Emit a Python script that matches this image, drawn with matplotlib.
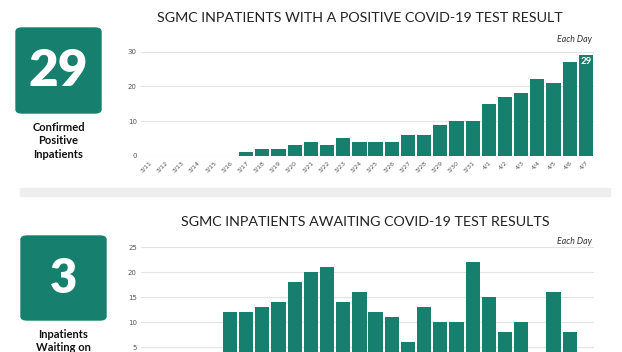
import numpy as np
import matplotlib.pyplot as plt
from matplotlib.patches import FancyBboxPatch, Rectangle

# Data
dates = ['3/11', '3/12', '3/13', '3/14', '3/15', '3/16', '3/17', '3/18', '3/19', '3/20',
         '3/21', '3/22', '3/23', '3/24', '3/25', '3/26', '3/27', '3/28', '3/29', '3/30',
         '3/31', '4/1', '4/2', '4/3', '4/4', '4/5', '4/6', '4/7']
positive = [0, 0, 0, 0, 0, 0, 1, 2, 2, 3, 4, 3, 5, 4, 4, 4, 6, 6, 9, 10,
            10, 15, 17, 18, 22, 21, 27, 29]
awaiting = [0, 0, 0, 0, 0, 12, 12, 13, 14, 18, 20, 21, 14, 16, 12, 11, 6, 13, 10, 10,
            22, 15, 8, 10, 2, 16, 8, 3]
pos_ticks = [0, 10, 20, 30]
await_ticks = [5, 10, 15, 20, 25]

teal = '#167f6d'
W, H = 622, 352

plt.rcParams['font.family'] = ['Lato', 'DejaVu Sans']
fig = plt.figure(figsize=(W / 100, H / 100), dpi=100)
fig.patch.set_facecolor('white')


def px(x, y):
    return x / W, 1 - y / H


def bar_panel(rect, values, ticks, ymax, xlabels=True):
    ax = fig.add_axes(rect)
    x = np.arange(len(dates))
    ax.bar(x, values, width=0.88, color=teal, zorder=3)
    ax.set_xlim(-0.5, len(dates) - 0.5)
    ax.set_ylim(0, ymax)
    ax.set_yticks(ticks)
    ax.set_yticklabels([str(t) for t in ticks], fontsize=5, color='#555555',
                       family='DejaVu Sans')
    ax.set_xticks(x)
    if xlabels:
        ax.set_xticklabels(dates, rotation=45, fontsize=4.5, color='#555555',
                           family='DejaVu Sans', ha='right', rotation_mode='anchor')
    else:
        ax.set_xticklabels([])
    ax.tick_params(length=0, pad=3)
    ax.grid(axis='y', color='#e3e3e3', linewidth=0.8, zorder=0)
    for s in ax.spines.values():
        s.set_visible(False)
    ax.set_facecolor('none')
    return ax


# top chart
ax1 = bar_panel([141 / W, 1 - 155.7 / H, 453 / W, 104 / H], positive, pos_ticks, 30)
ax1.text(len(dates) - 1, positive[-1] - 0.4, str(positive[-1]), color='white',
         fontsize=7, fontweight='bold', ha='center', va='top', zorder=4)

# bottom chart (cut off by the figure edge, date labels fall outside the picture)
ax2 = bar_panel([141 / W, 1 - 372.3 / H, 453 / W, 125 / H], awaiting, await_ticks, 25,
                xlabels=False)

# titles
fig.text(*px(360, 18), 'SGMC INPATIENTS WITH A POSITIVE COVID-19 TEST RESULT',
         fontsize=10.3, color='#222222', ha='center', va='center')
fig.text(*px(592, 40), 'Each Day', fontsize=6.3, style='italic', color='#333333',
         ha='right', va='center')
fig.text(*px(365, 222), 'SGMC INPATIENTS AWAITING COVID-19 TEST RESULTS',
         fontsize=10.3, color='#222222', ha='center', va='center')
fig.text(*px(592, 241), 'Each Day', fontsize=6.3, style='italic', color='#333333',
         ha='right', va='center')

# separator band
fig.patches.append(Rectangle(px(20, 196), 590 / W, 8 / H, color='#eeeeee',
                             transform=fig.transFigure, zorder=0))


# number boxes
def number_box(x0, y0, x1, y1, label, size, caption):
    fig.patches.append(FancyBboxPatch(px(x0, y1), (x1 - x0) / W, (y1 - y0) / H,
                                      boxstyle='round,pad=0,rounding_size=0.01',
                                      transform=fig.transFigure, color=teal, zorder=1))
    fig.text(*px((x0 + x1) / 2, (y0 + y1) / 2 + 1), label, color='white', fontsize=size,
             fontweight='heavy', ha='center', va='center')
    fig.text(*px((x0 + x1) / 2, y1 + 9), caption, color='#111111', fontsize=8,
             fontweight='bold', ha='center', va='top', linespacing=1.25)


number_box(16, 28, 101, 113, str(positive[-1]), 37, 'Confirmed\nPositive\nInpatients')
number_box(21, 236, 106, 320, str(awaiting[-1]), 34, 'Inpatients\nWaiting on')

fig.savefig('out.png', dpi=100)
